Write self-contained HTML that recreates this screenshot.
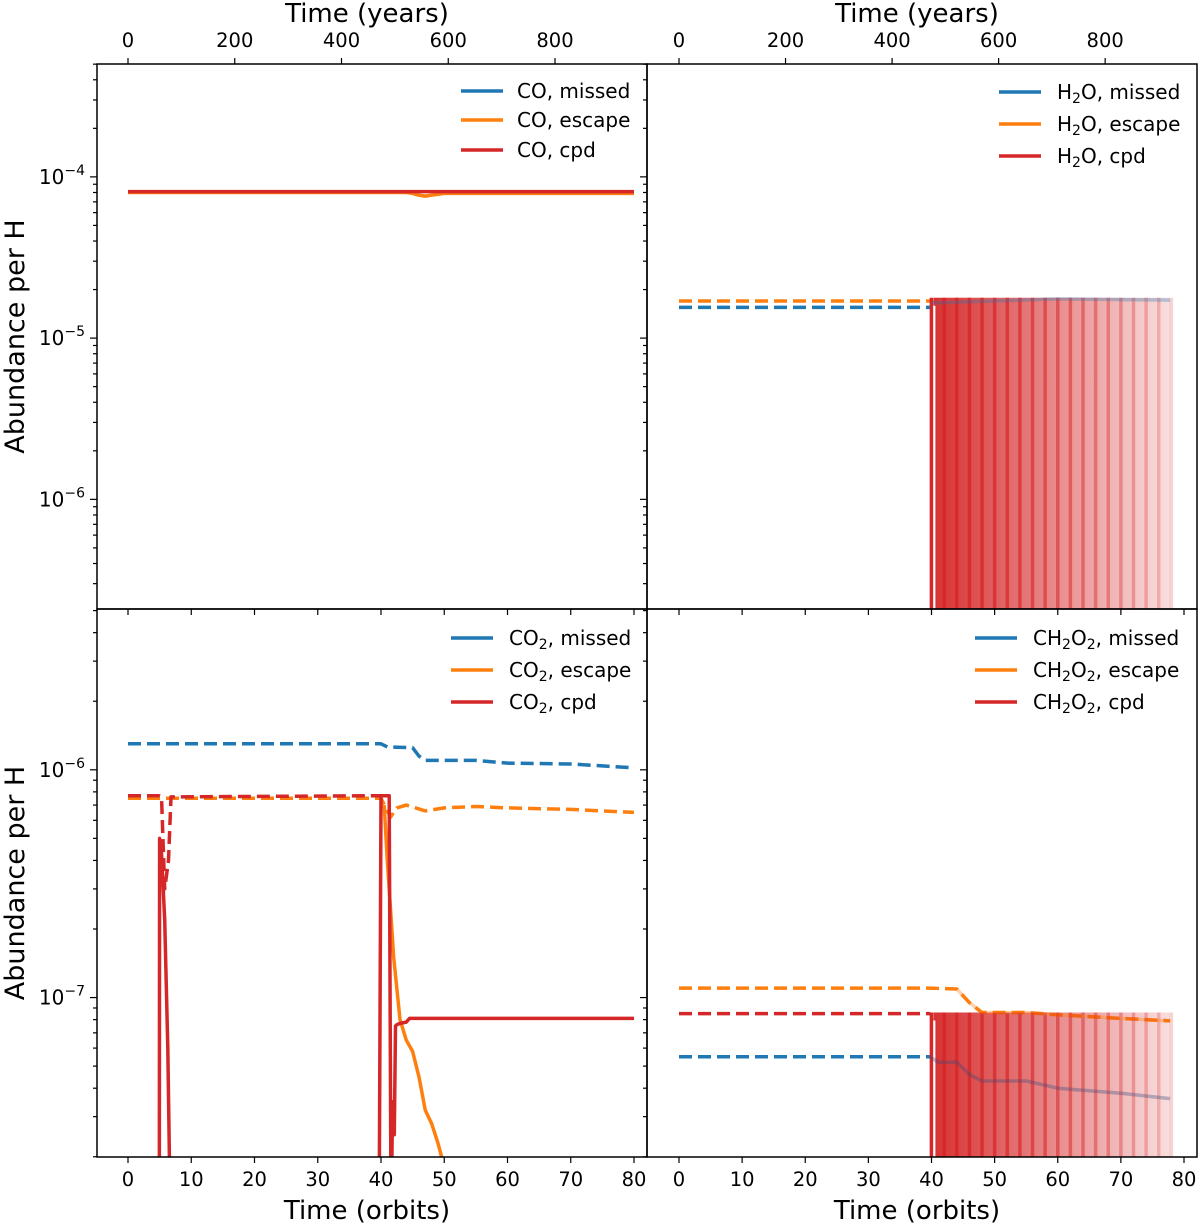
<!DOCTYPE html>
<html><head><meta charset="utf-8"><style>
html,body{margin:0;padding:0;background:#fff}
svg{display:block;font-family:"DejaVu Sans","Liberation Sans",sans-serif}
</style></head><body>
<svg id="chart" width="1200" height="1225" viewBox="0 0 1200 1225" xmlns="http://www.w3.org/2000/svg">
<defs>
<linearGradient id="fade" x1="0" x2="1" y1="0" y2="0">
<stop offset="0" stop-color="#d62728" stop-opacity="0.95"/>
<stop offset="1" stop-color="#d62728" stop-opacity="0.15"/>
</linearGradient>
</defs>
<g id="root"></g>
</svg>
<script>
// ---- data (orbits, abundance) ----
const orbitTicks=[0,10,20,30,40,50,60,70,80];
const yearTicks=[0,200,400,600,800];
const yearsPerOrbit=11.85;
// CO panel
const coT=[0,40,80];
const coCpd=[8.1e-5,8.1e-5,8.1e-5];
const coEscT=[0,44,45,46,47,48,50,80];
const coEsc=[8.0e-5,8.0e-5,7.9e-5,7.7e-5,7.6e-5,7.7e-5,7.9e-5,7.9e-5];
// H2O panel
const h2oT=[0,39.8];
const h2oEsc=[1.7e-5,1.7e-5];
const h2oMiss=[1.55e-5,1.55e-5];
const h2oBlockT=[40.3,77.8];
const h2oBlockTop=1.78e-5;
const h2oFadeT=[40,50,60,77.8];
const h2oFade=[1.65e-5,1.7e-5,1.75e-5,1.72e-5];
// CO2 panel
const co2MissT=[0,40,41,45,46,47,55,60,70,80];
const co2Miss=[1.3e-6,1.3e-6,1.26e-6,1.25e-6,1.15e-6,1.1e-6,1.1e-6,1.07e-6,1.06e-6,1.02e-6];
const co2EscDT=[0,40,41.5,42.5,44,47,50,55,60,70,80];
const co2EscD=[7.5e-7,7.5e-7,6.2e-7,6.8e-7,7.0e-7,6.6e-7,6.8e-7,6.9e-7,6.8e-7,6.7e-7,6.5e-7];
const co2CpdDT=[0,4.9,5.3,5.8,6.4,6.8,40];
const co2CpdD=[7.7e-7,7.7e-7,7.6e-7,3e-7,4e-7,7.6e-7,7.7e-7];
const co2Cpd1T=[4.95,5.0,5.3,5.8,6.3,6.7];
const co2Cpd1=[1e-8,5e-7,4.3e-7,2.2e-7,6e-8,1e-8];
const co2Cpd2T=[39.7,40.0,41.3,41.6,41.8,42.0,42.1,42.3,42.5,43,44,44.5,80];
const co2Cpd2=[1e-8,7.7e-7,7.7e-7,1e-8,3e-8,3.5e-8,2.5e-8,7.5e-8,7.6e-8,7.7e-8,7.8e-8,8.1e-8,8.1e-8];
const co2EscT=[40.5,41,42,43,44,45,46,47,48,49,50];
const co2Esc=[7e-7,4e-7,1.5e-7,8e-8,6.5e-8,5.8e-8,4.5e-8,3.2e-8,2.8e-8,2.3e-8,1.8e-8];
// CH2O2 panel
const chEscT=[0,39.5,44,46,48,55,60,70,77.8];
const chEsc=[1.1e-7,1.1e-7,1.09e-7,9.5e-8,8.6e-8,8.6e-8,8.4e-8,8.1e-8,7.9e-8];
const chCpdT=[0,39.8];
const chCpd=[8.5e-8,8.5e-8];
const chMissT=[0,39.8,41,44,46,48,55,60,70,77.8];
const chMiss=[5.5e-8,5.5e-8,5.2e-8,5.2e-8,4.6e-8,4.3e-8,4.3e-8,4.0e-8,3.8e-8,3.6e-8];
const chBlockTop=8.6e-8;

const NS='http://www.w3.org/2000/svg';
const root=document.getElementById('root');
function mk(tag,attrs,parent){const e=document.createElementNS(NS,tag);for(const k in attrs)e.setAttribute(k,attrs[k]);(parent||root).appendChild(e);return e;}
const C={blue:'#1f77b4',orange:'#ff7f0e',red:'#d62728'};

const panels=[
 {id:'co',x0:97,x1:647,y0:64,y1:609,ox:128,os:6.325,lt:-3.30,lb:-6.68,ylabels:true,top:true,bottom:false},
 {id:'h2o',x0:647,x1:1197,y0:64,y1:609,ox:679,os:6.3125,lt:-3.30,lb:-6.68,ylabels:false,top:true,bottom:false},
 {id:'co2',x0:97,x1:647,y0:609,y1:1157,ox:128,os:6.325,lt:-5.294,lb:-7.70,ylabels:true,top:false,bottom:true},
 {id:'ch2o2',x0:647,x1:1197,y0:609,y1:1157,ox:679,os:6.3125,lt:-5.294,lb:-7.70,ylabels:false,top:false,bottom:true}
];
panels.forEach(p=>{p.X=t=>p.ox+p.os*t;p.Y=v=>p.y0+(p.lt-Math.log10(v))/(p.lt-p.lb)*(p.y1-p.y0);});

function line(p,g,ts,vs,color,dash,w,op,name){
 let d='';ts.forEach((t,i)=>{d+=(i?'L':'M')+p.X(t).toFixed(1)+','+p.Y(vs[i]).toFixed(1);});
 const e=mk('path',{d:d,fill:'none',stroke:color,'stroke-width':w||3.5,'stroke-dasharray':dash?'13,6':'none','stroke-opacity':op||1,'stroke-linejoin':'round'},g);
 
 
 return e;
}
function block(p,g,t0,t1,top,name){
 const x0=p.X(t0),x1=p.X(t1),y=p.Y(top);
 const r=mk('rect',{x:x0,y:y,width:x1-x0,height:p.y1-y,fill:'url(#fade)'},g);
 
 
 for(let t=42;t<=78;t+=2){
  const op=0.9-0.7*(t-42)/36;
  const l=mk('line',{x1:p.X(t),x2:p.X(t),y1:y,y2:p.y1,stroke:C.red,'stroke-width':3.5,'stroke-opacity':op},g);
  
  
 }
 const e=mk('line',{x1:x0-2,x2:x0-2,y1:y,y2:p.y1,stroke:C.red,'stroke-width':3.5},g);
 
 
 const w=mk('line',{x1:x0+1,x2:x0+1,y1:y+8,y2:p.y1,stroke:'#fff','stroke-width':2},g);
 
 
}

panels.forEach((p,pi)=>{
 const g=mk('g',{});
 
 
 const cp=mk('clipPath',{id:'clip'+pi},g);
 mk('rect',{x:p.x0,y:p.y0,width:p.x1-p.x0,height:p.y1-p.y0},cp);
 const dg=mk('g',{'clip-path':'url(#clip'+pi+')'},g);
 if(p.id==='co'){
  line(p,dg,coEscT,coEsc,C.orange,false,3.5,1,'co-escape-line');
  line(p,dg,coT,coCpd,C.red,false,3.5,1,'co-cpd-line');
 }else if(p.id==='h2o'){
  line(p,dg,h2oT,h2oEsc,C.orange,true,3.5,1,'h2o-escape-line');
  line(p,dg,h2oT,h2oMiss,C.blue,true,3.5,1,'h2o-missed-line');
  block(p,dg,h2oBlockT[0],h2oBlockT[1],h2oBlockTop,'h2o-cpd-region');
  line(p,dg,h2oFadeT,h2oFade,C.blue,false,3.5,0.3,'h2o-missed-faded');
 }else if(p.id==='co2'){
  line(p,dg,co2MissT,co2Miss,C.blue,true,3.5,1,'co2-missed-line');
  line(p,dg,co2EscDT,co2EscD,C.orange,true,3.5,1,'co2-escape-dashed');
  line(p,dg,co2CpdDT,co2CpdD,C.red,true,3.5,1,'co2-cpd-dashed');
  line(p,dg,co2EscT,co2Esc,C.orange,false,3.5,1,'co2-escape-line');
  line(p,dg,co2Cpd1T,co2Cpd1,C.red,false,3.5,1,'co2-cpd-dip');
  line(p,dg,co2Cpd2T,co2Cpd2,C.red,false,3.5,1,'co2-cpd-line');
 }else{
  line(p,dg,chEscT,chEsc,C.orange,true,3.5,1,'ch2o2-escape-line');
  line(p,dg,chCpdT,chCpd,C.red,true,3.5,1,'ch2o2-cpd-line');
  line(p,dg,chMissT.slice(0,2),chMiss.slice(0,2),C.blue,true,3.5,1,'ch2o2-missed-line');
  block(p,dg,h2oBlockT[0],h2oBlockT[1],chBlockTop,'ch2o2-cpd-region');
  line(p,dg,chMissT.slice(1),chMiss.slice(1),'#3a4a7a',false,3.5,0.35,'ch2o2-missed-faded');
  line(p,dg,chEscT.slice(2),chEsc.slice(2),C.orange,false,3.5,0.35,'ch2o2-escape-faded');
 }
 const fr=mk('rect',{x:p.x0,y:p.y0,width:p.x1-p.x0,height:p.y1-p.y0,fill:'none',stroke:'#000','stroke-width':1.5},g);
 
 
 const lo=Math.floor(p.lb),hi=Math.ceil(p.lt);
 for(let e=lo;e<=hi;e++){for(let m=1;m<10;m++){
  const v=m*Math.pow(10,e),lv=Math.log10(v);
  if(lv<p.lb-1e-6||lv>p.lt+1e-6)continue;
  const y=p.Y(v),len=m===1?7:4;
  mk('line',{x1:p.x0-len,x2:p.x0,y1:y,y2:y,stroke:'#000','stroke-width':1.2},g);
  if(m===1&&p.ylabels){
   const t=mk('text',{x:p.x0-12,y:y+7,'text-anchor':'end','font-size':20},g);
   
   
   t.textContent='10';
   const s=mk('tspan',{dy:-9,'font-size':14},t);s.textContent='\u2212'+(-e);
  }
 }}
 orbitTicks.forEach(o=>{
  const x=p.X(o);
  mk('line',{x1:x,x2:x,y1:p.y1,y2:p.y1+6,stroke:'#000','stroke-width':1.2},g);
  if(p.bottom){const t=mk('text',{x:x,y:p.y1+29,'text-anchor':'middle','font-size':19.5},g);
   
   
   t.textContent=o;}
 });
 if(p.top){
  yearTicks.forEach(yr=>{
   const x=p.X(yr/yearsPerOrbit);
   mk('line',{x1:x,x2:x,y1:p.y0-6,y2:p.y0,stroke:'#000','stroke-width':1.2},g);
   const t=mk('text',{x:x,y:p.y0-17,'text-anchor':'middle','font-size':19.5},g);
   
   
   t.textContent=yr;
  });
  const tt=mk('text',{x:(p.x0+p.x1)/2-5,y:22,'text-anchor':'middle','font-size':26},g);
  
  
  tt.textContent='Time (years)';
 }
 if(p.bottom){
  const tt=mk('text',{x:(p.x0+p.x1)/2-5,y:1219,'text-anchor':'middle','font-size':26},g);
  
  
  tt.textContent='Time (orbits)';
 }
 if(p.ylabels){
  const cy=(p.y0+p.y1)/2;
  const tt=mk('text',{x:15,y:cy,'text-anchor':'middle','font-size':27,transform:'rotate(-90 15 '+cy+')',dy:9},g);
  
  
  tt.textContent='Abundance per H';
 }
});

const legends=[
 {lx:461,tx:517,ys:[91,120,150],sp:'CO',sub:null},
 {lx:999,tx:1057,ys:[92,124,156],sp:'H',sub:'2',rest:'O'},
 {lx:451,tx:509,ys:[638,670,702],sp:'CO',sub:'2',rest:''},
 {lx:975,tx:1033,ys:[638,670,702],sp:'CH',sub:'2',rest:'O',sub2:'2'}
];
const legLabels=['missed','escape','cpd'];
const legColors=[C.blue,C.orange,C.red];
legends.forEach((L,li)=>{
 const g=mk('g',{});
 
 
 L.ys.forEach((y,i)=>{
  mk('line',{x1:L.lx,x2:L.lx+42,y1:y,y2:y,stroke:legColors[i],'stroke-width':3.5},g);
  const t=mk('text',{x:L.tx,y:y+7,'font-size':20},g);
  
  
  t.appendChild(document.createTextNode(L.sp));
  if(L.sub){const s=mk('tspan',{dy:4,'font-size':14},t);s.textContent=L.sub;
   const r=mk('tspan',{dy:-4},t);r.textContent=L.rest||'';
   if(L.sub2){const s2=mk('tspan',{dy:4,'font-size':14},t);s2.textContent=L.sub2;
    const r2=mk('tspan',{dy:-4},t);r2.textContent=', '+legLabels[i];}
   else{r.textContent=(L.rest||'')+', '+legLabels[i];}
  }else{t.firstChild.textContent=L.sp+', '+legLabels[i];}
 });
});
</script>
</body></html>
